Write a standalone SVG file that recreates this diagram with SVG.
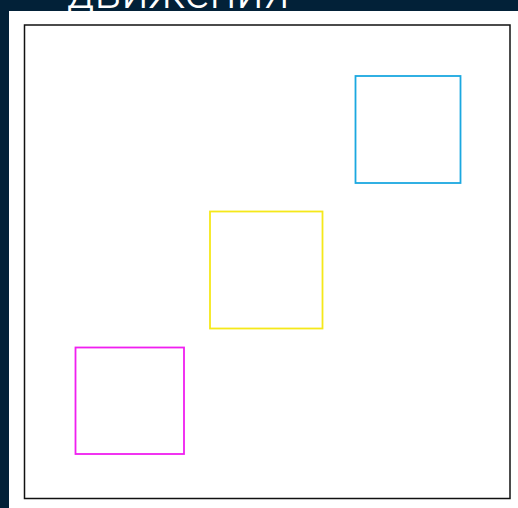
<svg xmlns="http://www.w3.org/2000/svg" width="518" height="508" viewBox="0 0 518 508">
<style>
.sq{fill:none;stroke-width:1.8}
</style>
<rect x="0" y="0" width="518" height="508" fill="#022138"/>
<rect x="9" y="11" width="509" height="497" fill="#ffffff"/>
<text x="67" y="8" font-family="Roboto, 'Liberation Sans', sans-serif" font-size="48" font-weight="300" fill="#ffffff">движения</text>
<rect x="24.5" y="25" width="485.5" height="473.5" fill="none" stroke="#111111" stroke-width="1.5"/>
<g id="blue"><rect class="sq" x="355.5" y="76" width="105" height="107" stroke="#1ba8e0"/></g>
<g id="yellow"><rect class="sq" x="210" y="211.5" width="112.5" height="117" stroke="#f5e81a"/></g>
<g id="magenta"><rect class="sq" x="75.5" y="347.5" width="108.5" height="106.5" stroke="#f01ff0"/></g>
</svg>
